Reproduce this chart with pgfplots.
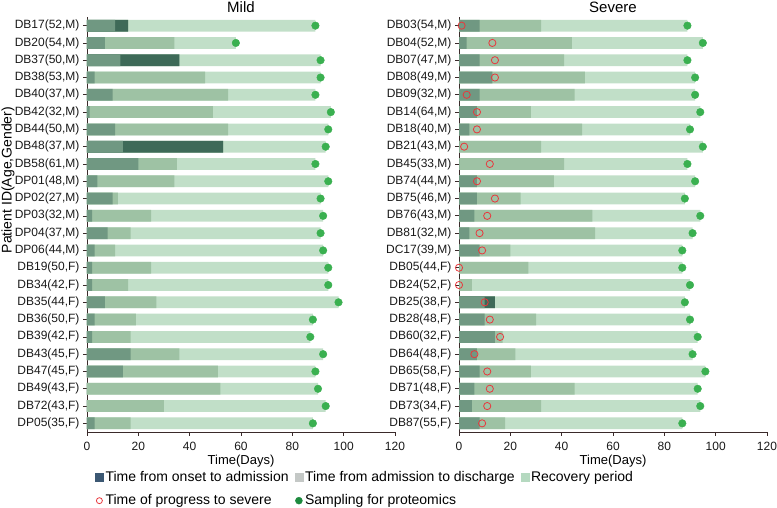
\documentclass[border=0pt]{standalone}
\usepackage{fontspec}
\setmainfont{Liberation Sans}
\usepackage{pgfplots}
\pgfplotsset{compat=1.18}
\usepackage{pgfplotstable}

\definecolor{cA}{HTML}{709882}
\definecolor{cB}{HTML}{9EC2A4}
\definecolor{cC}{HTML}{C1DFC8}
\definecolor{cD}{HTML}{3E6A58}
\definecolor{dotG}{HTML}{3AB050}
\definecolor{legA}{HTML}{3C5873}
\definecolor{legB}{HTML}{C4C8C6}
\definecolor{legC}{HTML}{B5D9C0}
\definecolor{legG}{HTML}{1D8A3E}
\definecolor{redc}{HTML}{E8383D}
\definecolor{axisc}{HTML}{3A2A2A}

% y: row (0 = bottom); a: onset->admission end; b: admission->discharge end;
% d: dark segment end (0 = none); c: recovery end / sampling day
\pgfplotstableread{
y a b d c
23 11 16 16 89
22 7 34 0 58
21 13 36 36 91
20 3 46 0 91
19 10 55 0 89
18 1 49 0 95
17 11 55 0 94
16 14 53 53 93
15 20 35 0 89
14 4 34 0 94
13 10 12 0 91
12 2 25 0 92
11 8 17 0 91
10 3 11 0 92
9 2 25 0 94
8 2 16 0 94
7 7 27 0 98
6 3 19 0 88
5 2 17 0 87
4 17 36 0 92
3 14 51 0 89
2 0 52 0 90
1 0 30 0 93
0 3 17 0 88
}\mildtab

% p: time of progress to severe
\pgfplotstableread{
y a b d c p
23 8 32 0 89 1
22 3 44 0 95 13
21 8 41 0 89 14
20 13 49 0 92 14
19 8 45 0 92 3
18 7 28 0 94 7
17 4 48 0 90 7
16 0 32 0 95 2
15 0 41 0 89 12
14 7 37 0 92 7
13 7 24 0 88 14
12 6 52 0 94 11
11 4 53 0 91 8
10 8 20 0 87 9
9 0 27 0 87 0
8 0 5 0 90 0
7 10 14 14 88 10
6 10 30 0 90 12
5 14 17 0 93 16
4 7 22 0 91 6
3 8 28 0 96 11
2 6 45 0 93 12
1 5 32 0 94 11
0 8 18 0 87 9
}\severetab

\pgfplotsset{
  panel/.style={
    scale only axis, width=308pt, height=415pt,
    xmin=0, xmax=120, ymin=-0.5, ymax=23.5,
    xtick={0,20,...,120}, ytick={0,...,23},
    axis lines=left,
    axis line style={-, color=axisc, line width=0.7pt},
    tick align=outside, major tick length=4pt,
    tick style={color=axisc, line width=0.7pt},
    /pgf/number format/assume math mode=true,
    ticklabel style={font=\fontsize{12}{14}\selectfont, text=black!90},
    xticklabel style={yshift=-2.5pt},
    xlabel={Time(Days)},
    xlabel style={font=\fontsize{13}{15}\selectfont, at={(0.5,0)}, anchor=base, yshift=-33pt},
    title style={font=\fontsize{15}{17}\selectfont, at={(0.5,1)}, anchor=base, yshift=-2pt},
    bar shift=0pt, bar width=0.68,
    clip=false,
  },
  dots/.style={only marks, color=dotG, mark=*, mark size=3.8pt,
    mark options={draw=dotG, fill=dotG, line width=0.4pt}},
}

\begin{document}
\begin{tikzpicture}
\begin{axis}[panel, name=L,
  title={Mild},
  ylabel={Patient ID(Age,Gender)},
  ylabel style={font=\fontsize{14}{16}\selectfont, at={(-79pt,0.607)}, anchor=center, rotate=0},
  yticklabels={{DP05(35,F)},{DB72(43,F)},{DB49(43,F)},{DB47(45,F)},{DB43(45,F)},{DB39(42,F)},{DB36(50,F)},{DB35(44,F)},{DB34(42,F)},{DB19(50,F)},{DP06(44,M)},{DP04(37,M)},{DP03(32,M)},{DP02(27,M)},{DP01(48,M)},{DB58(61,M)},{DB48(37,M)},{DB44(50,M)},{DB42(32,M)},{DB40(37,M)},{DB38(53,M)},{DB37(50,M)},{DB20(54,M)},{DB17(52,M)}},
  legend columns=3,
  legend cell align=left,
  legend style={at={(0,0)}, anchor=north west, xshift=5pt, yshift=-35pt,
    draw=none, fill=none, font=\fontsize{14}{16}\selectfont, row sep=8pt,
    /tikz/every even column/.append style={column sep=4pt}},
]
\addlegendimage{legend image code/.code={\fill[legA] (0pt,-4pt) rectangle (8pt,4pt);}}
\addlegendentry{Time from onset to admission}
\addlegendimage{legend image code/.code={\fill[legB] (0pt,-4pt) rectangle (8pt,4pt);}}
\addlegendentry{Time from admission to discharge}
\addlegendimage{legend image code/.code={\fill[legC] (0pt,-4pt) rectangle (8pt,4pt);}}
\addlegendentry{Recovery period}
\addlegendimage{legend image code/.code={\draw[redc, line width=0.8pt] (4pt,0pt) circle (3pt);}}
\addlegendentry{Time of progress to severe}
\addlegendimage{legend image code/.code={\fill[legG] (4pt,0pt) circle (3.5pt);}}
\addlegendentry{Sampling for proteomics}

\addplot[xbar, draw=none, fill=cC, forget plot] table[x=c, y=y] {\mildtab};
\addplot[xbar, draw=none, fill=cB, forget plot] table[x=b, y=y] {\mildtab};
\addplot[xbar, draw=none, fill=cD, forget plot] table[x=d, y=y] {\mildtab};
\addplot[xbar, draw=none, fill=cA, forget plot] table[x=a, y=y] {\mildtab};
\addplot[dots, forget plot] table[x=c, y=y] {\mildtab};
\end{axis}

\begin{axis}[panel, at={(372pt,0pt)},
  title={Severe},
  yticklabels={{DB87(55,F)},{DB73(34,F)},{DB71(48,F)},{DB65(58,F)},{DB64(48,F)},{DB60(32,F)},{DB28(48,F)},{DB25(38,F)},{DB24(52,F)},{DB05(44,F)},{DC17(39,M)},{DB81(32,M)},{DB76(43,M)},{DB75(46,M)},{DB74(44,M)},{DB45(33,M)},{DB21(43,M)},{DB18(40,M)},{DB14(64,M)},{DB09(32,M)},{DB08(49,M)},{DB07(47,M)},{DB04(52,M)},{DB03(54,M)}},
]
\addplot[xbar, draw=none, fill=cC] table[x=c, y=y] {\severetab};
\addplot[xbar, draw=none, fill=cB] table[x=b, y=y] {\severetab};
\addplot[xbar, draw=none, fill=cD] table[x=d, y=y] {\severetab};
\addplot[xbar, draw=none, fill=cA] table[x=a, y=y] {\severetab};
\addplot[dots] table[x=c, y=y] {\severetab};
\addplot[only marks, color=redc, mark=o, mark size=3.6pt, mark options={draw=redc, line width=0.8pt}] table[x=p, y=y] {\severetab};
\end{axis}

\pgfresetboundingbox
\path[use as bounding box] ([shift={(-87pt,-76pt)}]L.south west) rectangle ([shift={(690pt,432pt)}]L.south west);
\end{tikzpicture}
\end{document}
